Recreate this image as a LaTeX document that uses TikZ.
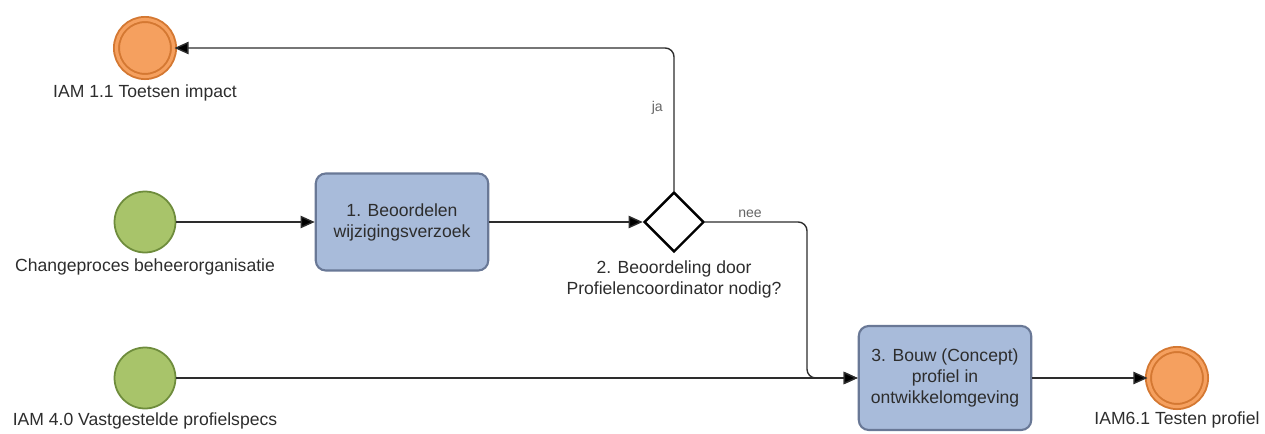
\documentclass[tikz,border=0pt]{standalone}
\usepackage{fontspec}
\setmainfont{Liberation Sans}
\usetikzlibrary{positioning, arrows.meta, shapes.geometric}
\definecolor{startfill}{RGB}{168, 196, 106}
\definecolor{startborder}{RGB}{110, 140, 60}
\definecolor{endfill}{RGB}{245, 160, 95}
\definecolor{endborder}{RGB}{212, 120, 50}
\definecolor{taskfill}{RGB}{168, 187, 218}
\definecolor{taskborder}{RGB}{105, 120, 150}
\definecolor{linecolor}{RGB}{45, 45, 45}
\definecolor{textcolor}{RGB}{45, 45, 45}

\begin{document}
\begin{tikzpicture}[
    x=0.02cm, y=-0.02cm,
    event/.style={circle, draw, minimum size=1.22cm, inner sep=0pt},
    startevent/.style={event, fill=startfill, draw=startborder, line width=1pt},
    endevent/.style={event, minimum size=1.14cm, fill=endfill, draw=endborder, line width=1.1pt, double=endfill, double distance=1.8pt},
    task/.style={rectangle, rounded corners=0.2cm, draw=taskborder, fill=taskfill, line width=1.2pt, minimum width=3.45cm, minimum height=1.94cm, align=center, text=textcolor},
    gateway/.style={diamond, draw=black, fill=white, line width=1.4pt, minimum width=1.2cm, minimum height=1.2cm, inner sep=0pt},
    eventlabel/.style={text=textcolor, inner sep=1pt, align=center},
    flowlabel/.style={font=\footnotesize, text=black!60, inner sep=1pt},
    flow/.style={draw=linecolor, line width=0.8pt, rounded corners=5pt, -{Triangle[length=8pt, width=7pt, fill=black]}},
]

\useasboundingbox (0, 0) rectangle (1265, 433);

% Events
\node[endevent] (end1) at (145, 48) {};
\node[eventlabel, below=3pt of end1] (end1label) {IAM 1.1 Toetsen impact};

\node[startevent] (start1) at (145, 222) {};
\node[eventlabel, below=2pt of start1] (start1label) {Changeproces beheerorganisatie};

\node[startevent] (start2) at (145, 378) {};
\node[eventlabel, below=1pt of start2] (start2label) {IAM 4.0 Vastgestelde profielspecs};

\node[endevent] (end2) at (1177, 378) {};
\node[eventlabel, below=1pt of end2] (end2label) {IAM6.1 Testen profiel};

% Tasks
\node[task] (beoordelen) at (402, 222) {1. Beoordelen\\wijzigingsverzoek};
\node[task, minimum height=2.08cm] (bouw) at (945, 378) {3. Bouw (Concept)\\profiel in\\ontwikkelomgeving};

% Gateway
\node[gateway] (gateway) at (674, 222) {};
\node[eventlabel, below=3pt of gateway] (gatewaylabel) {2. Beoordeling door\\Profielencoordinator nodig?};

% Flows
\draw[flow] (start1) -- (beoordelen);
\draw[flow] (beoordelen) -- (gateway);
\draw[flow] (gateway.north) |- node[flowlabel, pos=0.29, left=5pt] {ja} (end1);

\coordinate (merge) at (807, 378);
\draw[flow] (gateway.east) -| node[flowlabel, pos=0.22, above=1pt] {nee} (merge) -- (bouw.west);
\draw[flow] (start2) -- (bouw);
\draw[flow] (bouw) -- (end2);

\end{tikzpicture}
\end{document}
